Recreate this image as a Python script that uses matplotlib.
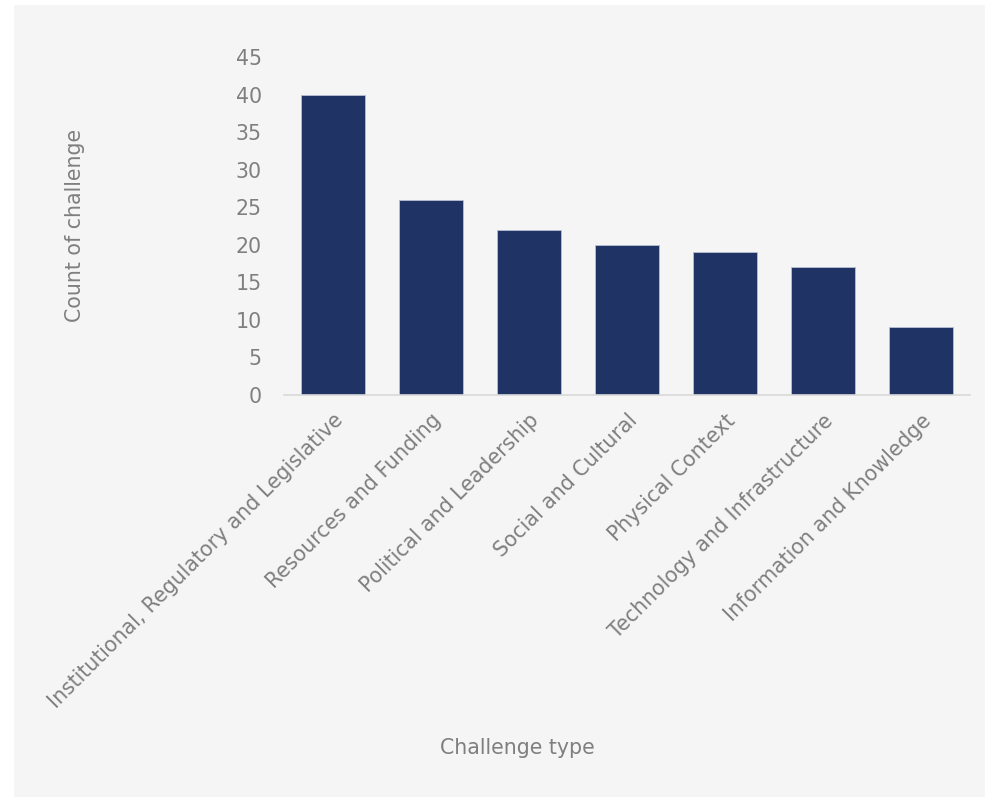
import matplotlib.pyplot as plt
from matplotlib.patches import Rectangle

CATEGORIES = [
    "Institutional, Regulatory and Legislative",
    "Resources and Funding",
    "Political and Leadership",
    "Social and Cultural",
    "Physical Context",
    "Technology and Infrastructure",
    "Information and Knowledge",
]
COUNTS = [40, 26, 22, 20, 19, 17, 9]
Y_TICKS = list(range(0, 50, 5))

BAR = "#1f3364"
TEXT = "#7f7f7f"
PANEL = "#f5f5f5"
FS = 14.8

plt.rcParams["font.family"] = ["DejaVu Sans"]

W, H = 986, 797
fig = plt.figure(figsize=(W / 100, H / 100), dpi=100, facecolor="white")
# light grey card behind the chart
fig.patches.append(Rectangle((14 / W, 0), (985 - 14) / W, (H - 5) / H,
                             transform=fig.transFigure, facecolor=PANEL,
                             edgecolor="none", zorder=-1))

ax = fig.add_axes([284 / W, 1 - 395 / H, (970 - 284) / W, (395 - 57) / H])
ax.set_facecolor(PANEL)
x = range(len(CATEGORIES))
ax.bar(x, COUNTS, width=0.66, color=BAR, edgecolor="#b8c0d4", linewidth=0.6)

ax.set_xlim(-0.5, 6.5)
ax.set_ylim(0, 45)
ax.set_yticks(Y_TICKS)
ax.set_xticks(list(x))
ax.set_xticklabels(CATEGORIES, rotation=45, ha="right", rotation_mode="anchor",
                   fontsize=FS, color=TEXT)
ax.tick_params(axis="y", labelsize=FS, labelcolor=TEXT, length=0, pad=16)
ax.tick_params(axis="x", length=0, pad=11)

for side in ("top", "right", "left"):
    ax.spines[side].set_visible(False)
ax.spines["bottom"].set_color("#d9d9d9")
ax.spines["bottom"].set_linewidth(1.2)

fig.text(75 / W, 1 - 225 / H, "Count of challenge", rotation=90,
         ha="center", va="center", fontsize=FS, color=TEXT)
fig.text(517 / W, 1 - 748 / H, "Challenge type", ha="center", va="center",
         fontsize=FS, color=TEXT)

fig.savefig("out.png", dpi=100, facecolor="white")
